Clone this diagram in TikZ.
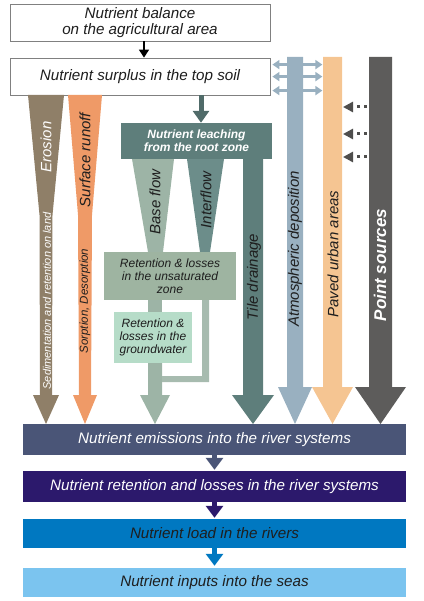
\documentclass[tikz,border=0pt]{standalone}
\usepackage{fontspec}
\setmainfont{Liberation Sans}
\usetikzlibrary{arrows.meta,calc}

\definecolor{erosionbrown}{HTML}{8F7F68}
\definecolor{runofforange}{HTML}{EF9A67}
\definecolor{leachteal}{HTML}{5E7E7B}
\definecolor{baseflowgreen}{HTML}{9DB4A6}
\definecolor{interflowteal}{HTML}{6C8D8A}
\definecolor{unsatgreen}{HTML}{9EB4A1}
\definecolor{groundmint}{HTML}{B6DCC8}
\definecolor{atmblue}{HTML}{99B0C0}
\definecolor{pavedpeach}{HTML}{F5C592}
\definecolor{pointgray}{HTML}{5D5C5B}
\definecolor{emisslate}{HTML}{4A5577}
\definecolor{retpurple}{HTML}{2C196C}
\definecolor{loadblue}{HTML}{0078C1}
\definecolor{seablue}{HTML}{7BC4EF}
\definecolor{darktext}{HTML}{1E1E1E}

\tikzset{
  whitebox/.style={draw=black!50, fill=white, line width=0.8pt, minimum width=260pt,
    inner sep=0pt, align=center, text=darktext, font=\fontsize{15.2}{16}\selectfont\itshape},
  flowbox/.style={minimum width=383pt, inner sep=0pt, align=center,
    font=\fontsize{15.2}{16}\selectfont\itshape},
  zonebox/.style={inner sep=0pt, align=center, text=darktext,
    font=\fontsize{12}{13}\selectfont\itshape},
  sidetext/.style={rotate=90, inner sep=0pt, text=darktext,
    font=\fontsize{15}{16}\selectfont\itshape},
  smallside/.style={sidetext, font=\fontsize{11}{12}\selectfont\itshape},
  chainarrow/.style={line width=5pt, -{Triangle[width=17pt,length=12pt]}},
  dotarrow/.style={pointgray!85!black, line width=3pt, dash pattern=on 3pt off 4pt, dash phase=5pt,
    -{Triangle[width=10pt,length=10pt]}},
  atmarrow/.style={atmblue, line width=2.5pt, {Triangle[width=9pt,length=7pt]}-{Triangle[width=9pt,length=7pt]}},
}

\begin{document}
\begin{tikzpicture}[x=1pt,y=-1pt]
  \useasboundingbox (0,0) rectangle (423,601);

  %%%%% top boxes %%%%%
  \node[whitebox, minimum height=37pt] (balance) at (140,22.5) {Nutrient balance\\on the agricultural area};
  \node[whitebox, minimum height=37pt] (surplus) at (140,76.5) {Nutrient surplus in the top soil};
  \draw[line width=1.6pt, -{Triangle[width=10pt,length=8pt]}] ($(balance.south)+(4,0)$) -- ($(surplus.north)+(4,0)$);

  %%%%% erosion and surface runoff %%%%%
  \fill[erosionbrown] (28,95) -- (64,95) -- (52.5,215) -- (52,395) -- (59,395) -- (46,424) -- (33,395) -- (40,395) -- (39.5,215) -- cycle;
  \fill[runofforange] (68,95) -- (102,95) -- (92,215) -- (91,395) -- (97,395) -- (85,424) -- (73,395) -- (79,395) -- (78,215) -- cycle;
  \node[sidetext, text=white] (erosion) at (46,147) {Erosion};
  \node[smallside, text=white] (sedim) at (47,301) {Sedimentation and retention on land};
  \node[sidetext] (runoff) at (85,160) {Surface runoff};
  \node[smallside, font=\fontsize{11.5}{12}\selectfont\itshape] (sorption) at (85,301) {Sorption, Desorption};

  %%%%% leaching %%%%%
  \fill[leachteal] (243,159) -- (263,159) -- (263,395) -- (274,395) -- (253,424) -- (232,395) -- (243,395) -- cycle;
  \fill[baseflowgreen] (132,159) -- (174,159) -- (163,252) -- (148,252) -- cycle;
  \fill[interflowteal] (187,159) -- (224,159) -- (210,252) -- (200,252) -- cycle;
  \fill[baseflowgreen] (148,300) rectangle (162,312);
  \fill[baseflowgreen] (148,363) -- (162,363) -- (162,395) -- (170,395) -- (155,424) -- (140,395) -- (148,395) -- cycle;
  \fill[baseflowgreen!90!white] (202,300) -- (209,300) -- (209,382) -- (162,382) -- (162,376) -- (202,376) -- cycle;

  \node[fill=leachteal, minimum width=151pt, minimum height=36pt, inner sep=0pt, align=center, text=white,
    font=\fontsize{12}{13}\selectfont\bfseries\itshape] (leaching) at (196.5,141) {Nutrient leaching\\from the root zone};
  \draw[leachteal!85!black, line width=5pt, -{Triangle[width=16pt,length=12pt]}] ($(surplus.south)+(61,0)$) -- ($(leaching.north)+(4.5,0)$);

  \node[zonebox, fill=unsatgreen, minimum width=132pt, minimum height=48pt] (unsat) at (170,276) {Retention \& losses\\in the unsaturated\\zone};
  \node[zonebox, fill=groundmint, minimum width=78pt, minimum height=51pt] (ground) at (153,337.5) {Retention \&\\losses in the\\groundwater};

  \node[sidetext] (base) at (155,202) {Base flow};
  \node[sidetext] (inter) at (206,200) {Interflow};
  \node[sidetext] (tile) at (254,277) {Tile drainage};

  %%%%% deposition, urban areas, point sources %%%%%
  \draw[atmarrow] ($(surplus.north east)+(2,7)$) -- ($(surplus.north east)+(52,7)$);
  \draw[atmarrow] ($(surplus.north east)+(2,19)$) -- ($(surplus.north east)+(52,19)$);
  \draw[atmarrow] ($(surplus.north east)+(2,33)$) -- ($(surplus.north east)+(52,33)$);
  \fill[atmblue] (287,57) -- (303,57) -- (303,387) -- (312,387) -- (295,424) -- (278,387) -- (287,387) -- cycle;
  \fill[pavedpeach] (323,57) -- (342,57) -- (342,387) -- (353,387) -- (332.5,424) -- (312,387) -- (323,387) -- cycle;
  \fill[pointgray] (369,57) -- (392,57) -- (392,387) -- (406,387) -- (380.5,424) -- (355,387) -- (369,387) -- cycle;
  \coordinate (pointedge) at (369,57);
  \coordinate (pavededge) at (343,57);
  \draw[dotarrow] ($(pointedge)+(0,50)$) -- ($(pavededge)+(0,50)$);
  \draw[dotarrow] ($(pointedge)+(0,77)$) -- ($(pavededge)+(0,77)$);
  \draw[dotarrow] ($(pointedge)+(0,100)$) -- ($(pavededge)+(0,100)$);

  \node[sidetext] (atm) at (295,249) {Atmospheric deposition};
  \node[sidetext] (paved) at (333,254) {Paved urban areas};
  \node[sidetext, text=white, font=\fontsize{17}{18}\selectfont\bfseries\itshape] (point) at (380,265) {Point sources};

  %%%%% river chain %%%%%
  \node[flowbox, fill=emisslate, text=white, minimum height=31pt] (emis) at (214.5,439.5) {Nutrient emissions into the river systems};
  \node[flowbox, fill=retpurple, text=white, minimum height=31pt] (ret) at (214.5,486.5) {Nutrient retention and losses in the river systems};
  \node[flowbox, fill=loadblue, text=darktext, minimum height=29pt] (load) at (214.5,533.5) {Nutrient load in the rivers};
  \node[flowbox, fill=seablue, text=darktext, minimum height=29pt] (seas) at (214.5,582.5) {Nutrient inputs into the seas};

  \draw[chainarrow, emisslate] (emis.south) -- ($(ret.north)+(0,-1)$);
  \draw[chainarrow, retpurple] (ret.south) -- ($(load.north)+(0,-1)$);
  \draw[chainarrow, loadblue] (load.south) -- ($(seas.north)+(0,-2)$);
\end{tikzpicture}
\end{document}
